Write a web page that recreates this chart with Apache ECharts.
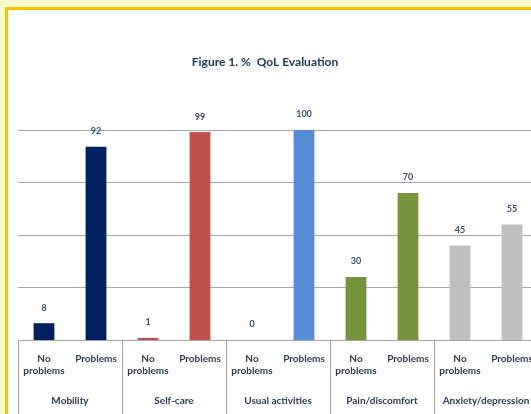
<!DOCTYPE html>
<html lang="en">
<head>
    <meta charset="UTF-8">
    <title>QoL Evaluation</title>
    <script src="https://cdn.jsdelivr.net/npm/echarts@6/dist/echarts.min.js"></script>
    <style>
        html, body { margin: 0; padding: 0; width: 531px; height: 414px; overflow: hidden; background: #FFFBCC; }
        #frame { position: absolute; left: 5px; top: 7px; width: 600px; height: 500px;
                 border-left: 3px solid #FFC000; border-top: 3px solid #FFC000; background: #fff; }
        #container { position: absolute; left: 0; top: 0; width: 540px; height: 404px; }
    </style>
</head>
<body>
<div id="frame">
    <div id="container"></div>
</div>

<script type="text/javascript">
    // data
    var groups = ['Mobility', 'Self-care', 'Usual activities', 'Pain/discomfort', 'Anxiety/depression'];
    var answers = ['No\nproblems', 'Problems'];
    var noProblems = [8, 1, 0, 30, 45];
    var problems = [92, 99, 100, 70, 55];
    var groupColors = ['#002060', '#C0504D', '#558ED5', '#77933C', '#BFBFBF'];

    var subCats = [];
    var barData = [];
    for (var i = 0; i < groups.length; i++) {
        subCats.push(answers[0], answers[1]);
        barData.push({ value: noProblems[i], itemStyle: { color: groupColors[i] } });
        barData.push({ value: problems[i], itemStyle: { color: groupColors[i] } });
    }

    var txt = '#2E3A55';
    var lineCol = '#A6A6A6';

    var myChart = echarts.init(document.getElementById('container'), null, { renderer: 'canvas' });

    var option = {
        animation: false,
        title: {
            text: 'Figure 1. %  QoL Evaluation',
            left: 252, top: 41, textAlign: 'center',
            textStyle: { fontFamily: 'Lato', fontSize: 12, fontWeight: 'bold', color: '#1F3A60' }
        },
        grid: { left: 10, right: 10, top: 120, bottom: 74 },
        xAxis: [
            {
                type: 'category',
                data: subCats,
                position: 'bottom',
                axisLine: { show: true, lineStyle: { color: lineCol, width: 1 } },
                axisTick: { show: false },
                axisLabel: {
                    interval: 0, margin: 13, lineHeight: 12,
                    fontFamily: 'Lato', fontSize: 10, fontWeight: 'bold', color: txt
                }
            },
            {
                type: 'category',
                data: groups,
                position: 'bottom',
                axisLine: { show: false },
                axisTick: { show: true, length: 90, lineStyle: { color: lineCol } },
                axisLabel: {
                    interval: 0, margin: 56,
                    fontFamily: 'Lato', fontSize: 10, fontWeight: 'bold', color: txt
                }
            }
        ],
        yAxis: {
            type: 'value',
            min: 0, max: 100, interval: 25,
            axisLine: { show: false },
            axisTick: { show: false },
            axisLabel: { show: false },
            splitLine: { lineStyle: { color: lineCol, width: 1 } }
        },
        series: [
            {
                type: 'bar',
                xAxisIndex: 0,
                data: barData,
                barWidth: '40%',
                label: {
                    show: true, position: 'top', distance: 11,
                    fontFamily: 'Lato', fontSize: 9, fontWeight: 'bold', color: '#3F4B66'
                }
            }
        ]
    };
    myChart.setOption(option);
</script>
</body>
</html>
